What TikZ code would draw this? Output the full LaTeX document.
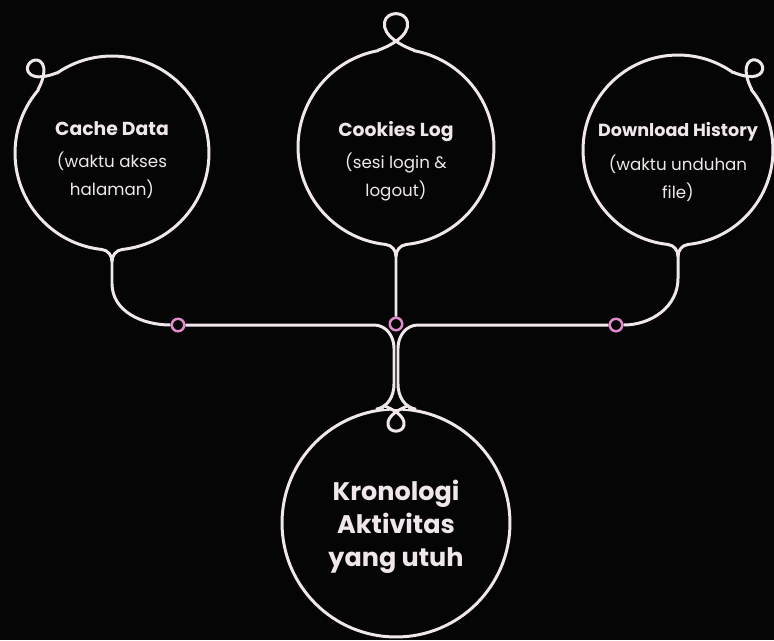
\documentclass[tikz,border=0pt]{standalone}
\usepackage{fontspec}
\setmainfont{Poppins}
\usetikzlibrary{calc}

\definecolor{bg}{RGB}{5,5,5}
\definecolor{ink}{RGB}{240,231,236}
\definecolor{rose}{RGB}{224,140,204}

\pgfdeclarelayer{front}
\pgfsetlayers{main,front}

\begin{document}
\begin{tikzpicture}[x=0.02cm,y=0.02cm,
  wire/.style={draw=ink,line width=1.7pt},
  bubble/.style={circle,draw=ink,line width=1.7pt,inner sep=0pt},
  knot/.style={circle,draw=rose,fill=bg,line width=1.4pt,minimum size=0.25cm,inner sep=0pt},
  caption/.style={text=ink,align=center,font=\fontsize{9.5}{15.9}\selectfont},
  bigcaption/.style={text=ink,align=center,font=\bfseries\fontsize{14.5}{18.7}\selectfont}]

  \fill[bg] (0,0) rectangle (774,-640);
  \useasboundingbox (0,0) rectangle (774,-640);

  % bubbles
  \node[bubble,minimum size=3.88cm] (cache) at (112,-153) {};
  \node[bubble,minimum size=3.92cm] (cookies) at (396,-147) {};
  \node[bubble,minimum size=3.8cm] (download) at (678,-150) {};
  \node[bubble,minimum size=4.56cm] (kron) at (396,-523) {};

  \node[caption] (cachetxt) at (112,-160)
    {{\bfseries\fontsize{10.7}{12}\selectfont Cache Data}\\[2.5pt](waktu akses\\halaman)};
  \node[caption] (cookiestxt) at (396,-161)
    {{\bfseries\fontsize{10.7}{12}\selectfont Cookies Log}\\[2.5pt](sesi login \&\\logout)};
  \node[caption] (downloadtxt) at (678,-162)
    {{\bfseries\fontsize{10}{12}\selectfont Download History}\\[3pt](waktu unduhan\\file)};
  \node[bigcaption] (krontxt) at (396,-527) {Kronologi\\Aktivitas\\yang utuh};

  \begin{pgfonlayer}{front}
    \node[knot] (dotL) at (178,-325) {};
    \node[knot] (dotC) at (396,-324) {};
    \node[knot] (dotR) at (616,-325) {};
  \end{pgfonlayer}

  % little curls on the outlines
  \foreach \spot/\turn/\size in {cache.132/42/0.8, cookies.north/0/1.15, download.47/-43/0.8, kron.north/180/0.8}{
    \begin{scope}[shift={(\spot)},rotate=\turn,scale=\size]
      \fill[bg] (-15,-6) rectangle (15,2);
      \draw[wire] (-16,-2.5) .. controls (-6,1) and (12,10) .. (10,22)
        .. controls (8,32) and (-8,32) .. (-10,22)
        .. controls (-12,10) and (6,1) .. (16,-2.5);
    \end{scope}
  }

  % stems
  \foreach \b in {cache,cookies,download}
    \fill[bg] ($(\b.south)+(-9,-1)$) rectangle ($(\b.south)+(9,6)$);

  \draw[wire] (dotL.west) to[out=180,in=-90] ($(cache.south)+(0,-32)$)
    -- ($(cache.south)+(0,-10)$) to[out=90,in=-7] ($(cache.center)+(-96:97)$);
  \draw[wire] ($(cache.south)+(0,-10)$) to[out=90,in=187] ($(cache.center)+(-84:97)$);

  \draw[wire] (dotC.north) -- ($(cookies.south)+(0,-10)$) to[out=90,in=-7] ($(cookies.center)+(-96:98)$);
  \draw[wire] ($(cookies.south)+(0,-10)$) to[out=90,in=187] ($(cookies.center)+(-84:98)$);

  \draw[wire] (dotR.east) to[out=0,in=-90] ($(download.south)+(0,-32)$)
    -- ($(download.south)+(0,-10)$) to[out=90,in=-7] ($(download.center)+(-96:95)$);
  \draw[wire] ($(download.south)+(0,-10)$) to[out=90,in=187] ($(download.center)+(-84:95)$);

  % branches into the bottom bubble
  \draw[wire] (dotL.east) -- ($(dotC)+(-22,-1)$) to[out=0,in=90] ($(dotC)+(-2,-24)$)
    -- ($(dotC)+(-2,-60)$) to[out=-90,in=10] (kron.100);
  \draw[wire] (dotR.west) -- ($(dotC)+(22,-1)$) to[out=180,in=90] ($(dotC)+(2,-24)$)
    -- ($(dotC)+(2,-60)$) to[out=-90,in=170] (kron.80);
\end{tikzpicture}
\end{document}
